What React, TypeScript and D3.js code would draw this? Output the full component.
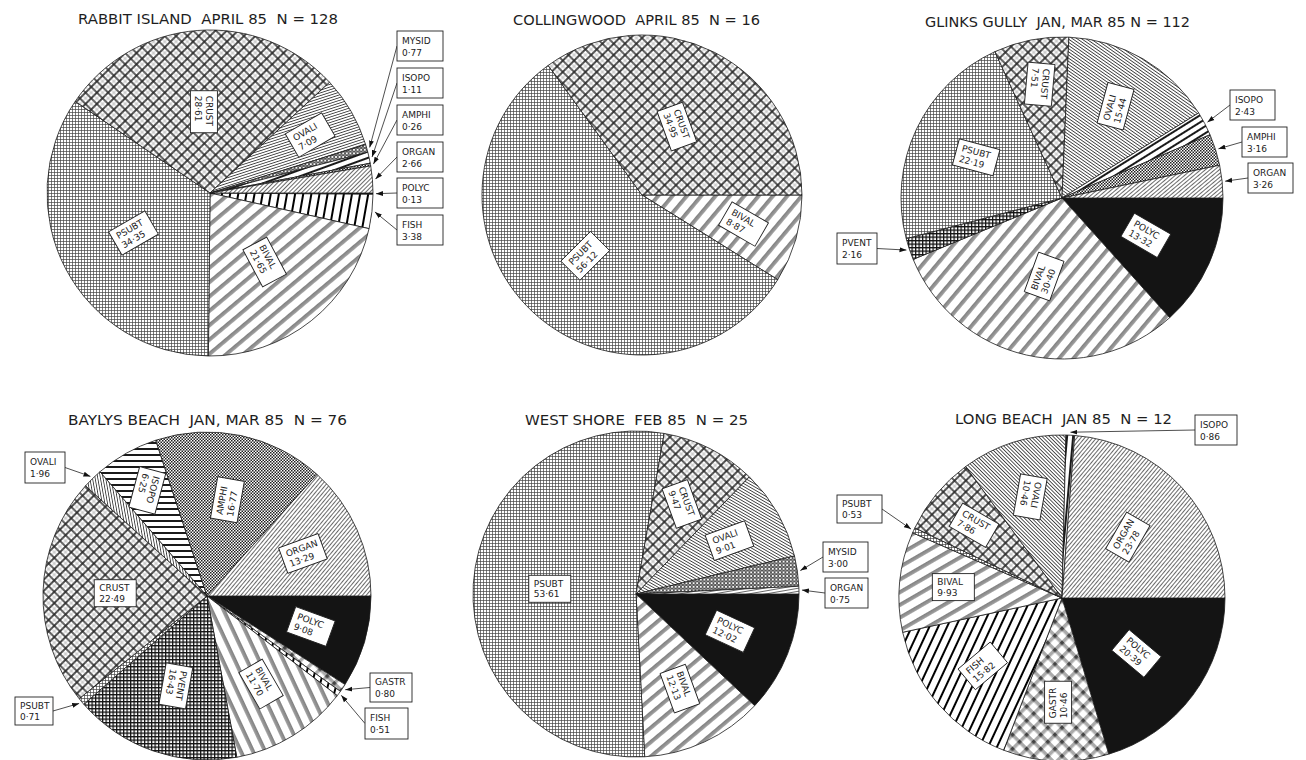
import React from 'react';
import * as d3 from 'd3';

// ---------- DATA (percent of diet, clockwise from 3 o'clock) ----------
const rabbitCats = ['POLYC', 'FISH', 'BIVAL', 'PSUBT', 'CRUST', 'OVALI', 'MYSID', 'ISOPO', 'AMPHI', 'ORGAN'];
const rabbitVals = [0.13, 3.38, 21.65, 34.35, 28.61, 7.09, 0.77, 1.11, 0.26, 2.66];
const collingCats = ['BIVAL', 'PSUBT', 'CRUST'];
const collingVals = [8.87, 56.12, 34.95];
const glinksCats = ['POLYC', 'BIVAL', 'PVENT', 'PSUBT', 'CRUST', 'OVALI', 'ISOPO', 'AMPHI', 'ORGAN'];
const glinksVals = [13.32, 30.4, 2.16, 22.19, 7.51, 15.44, 2.43, 3.16, 3.26];
const baylysCats = ['POLYC', 'GASTR', 'FISH', 'BIVAL', 'PVENT', 'PSUBT', 'CRUST', 'OVALI', 'ISOPO', 'AMPHI', 'ORGAN'];
const baylysVals = [9.08, 0.8, 0.51, 11.7, 16.43, 0.71, 22.49, 1.96, 6.25, 16.77, 13.29];
const westCats = ['POLYC', 'BIVAL', 'PSUBT', 'CRUST', 'OVALI', 'MYSID', 'ORGAN'];
const westVals = [12.02, 12.13, 53.61, 9.47, 9.01, 3.0, 0.75];
const longCats = ['POLYC', 'GASTR', 'FISH', 'BIVAL', 'PSUBT', 'CRUST', 'OVALI', 'ISOPO', 'ORGAN'];
const longVals = [20.39, 10.46, 15.82, 9.93, 0.53, 7.86, 10.46, 0.86, 23.78];
const titles = [
  'RABBIT ISLAND  APRIL 85  N = 128',
  'COLLINGWOOD  APRIL 85  N = 16',
  'GLINKS GULLY  JAN, MAR 85 N = 112',
  'BAYLYS BEACH  JAN, MAR 85  N = 76',
  'WEST SHORE  FEB 85  N = 25',
  'LONG BEACH  JAN 85  N = 12',
];

// ---------- LAYOUT / STYLE ----------
type Inner = { [k: string]: [number, number] }; // radius fraction, text rotation
type Outer = { [k: string]: [number, number, number, number, 'l' | 'r'] }; // box x,y,w,h, arrow side
const pies = [
  { cats: rabbitCats, vals: rabbitVals, cx: 210, cy: 193, r: 163, tx: 78, ty: 24, tw: 260 },
  { cats: collingCats, vals: collingVals, cx: 642, cy: 195, r: 160, tx: 513, ty: 25, tw: 247 },
  { cats: glinksCats, vals: glinksVals, cx: 1062, cy: 198, r: 161, tx: 925, ty: 27, tw: 265 },
  { cats: baylysCats, vals: baylysVals, cx: 207, cy: 596, r: 164, tx: 68, ty: 425, tw: 279 },
  { cats: westCats, vals: westVals, cx: 636, cy: 594, r: 163, tx: 525, ty: 425, tw: 223 },
  { cats: longCats, vals: longVals, cx: 1062, cy: 598, r: 163, tx: 955, ty: 424, tw: 217 },
];
const inner: Inner[] = [
  { CRUST: [0.5, 90], OVALI: [0.71, -30], PSUBT: [0.53, -30], BIVAL: [0.54, 62] },
  { CRUST: [0.48, 70], BIVAL: [0.66, 30], PSUBT: [0.52, -45] },
  { POLYC: [0.57, 30], BIVAL: [0.5, -70], PSUBT: [0.59, 15], CRUST: [0.72, 95], OVALI: [0.66, -75] },
  { POLYC: [0.66, 20], BIVAL: [0.63, 60], PVENT: [0.58, 100], CRUST: [0.56, 0], ISOPO: [0.74, 105], AMPHI: [0.6, -80], ORGAN: [0.64, -20] },
  { POLYC: [0.62, 25], BIVAL: [0.64, 70], PSUBT: [0.53, 0], CRUST: [0.62, 70], OVALI: [0.66, -20] },
  { POLYC: [0.57, 40], GASTR: [0.64, -90], FISH: [0.64, -40], BIVAL: [0.67, 0], CRUST: [0.7, 30], OVALI: [0.65, 100], ORGAN: [0.55, -60] },
];
const outer: Outer[] = [
  {
    MYSID: [397, 31, 46, 30, 'l'], ISOPO: [397, 68, 46, 30, 'l'], AMPHI: [397, 105, 46, 30, 'l'],
    ORGAN: [397, 142, 46, 30, 'l'], POLYC: [397, 178, 46, 30, 'l'], FISH: [397, 215, 46, 30, 'l'],
  },
  {},
  { ISOPO: [1230, 90, 45, 30, 'l'], AMPHI: [1242, 127, 45, 30, 'l'], ORGAN: [1248, 163, 45, 30, 'l'], PVENT: [837, 233, 40, 31, 'r'] },
  { OVALI: [25, 452, 40, 31, 'r'], PSUBT: [15, 697, 38, 28, 'r'], GASTR: [370, 673, 42, 29, 'l'], FISH: [365, 708, 43, 31, 'l'] },
  { MYSID: [823, 542, 45, 30, 'l'], ORGAN: [825, 578, 43, 30, 'l'] },
  { PSUBT: [837, 495, 45, 28, 'r'], ISOPO: [1195, 415, 42, 30, 'l'] },
];
const baseAngle: { [k: string]: number } = {
  PSUBT: 0, CRUST: 45, OVALI: 35, BIVAL: -45, FISH: -75, ISOPO: -30, ORGAN: -45, AMPHI: 0, MYSID: 0, GASTR: 45, PVENT: 0, POLYC: 0,
};
const angleOverride: { [k: string]: number }[] = [
  { OVALI: -18, BIVAL: -40, FISH: -80, ISOPO: -20 },
  { BIVAL: -50 },
  { BIVAL: -50, ISOPO: -32, ORGAN: -40 },
  { BIVAL: 65, ISOPO: 0, ORGAN: -50, OVALI: 80 },
  { BIVAL: -40, OVALI: 30, ORGAN: -10 },
  { BIVAL: -30, FISH: -65, ISOPO: -85, ORGAN: -50, OVALI: 45 },
];

const fmt = (v: number) => v.toFixed(2).replace('.', '·');

function patternBody(cat: string) {
  switch (cat) {
    case 'PSUBT':
      return { s: 3, el: <path d="M0,0.5H3M0.5,0V3" stroke="#444" strokeWidth={0.7} /> };
    case 'CRUST':
      return {
        s: 8,
        el: (
          <g>
            <path d="M0,1H8M1,0V8" stroke="#2a2a2a" strokeWidth={1.7} />
            <path d="M0,5H8M5,0V8" stroke="#8a8a8a" strokeWidth={0.5} />
          </g>
        ),
      };
    case 'OVALI':
      return { s: 2.6, el: <path d="M0,1.3H2.6" stroke="#2a2a2a" strokeWidth={0.8} /> };
    case 'BIVAL':
      return {
        s: 11,
        el: (
          <g>
            <rect x={0} y={0} width={11} height={3.6} fill="#b0b0b0" />
            <path d="M0,0.4H11M0,3.2H11M0,1.8H11" stroke="#555" strokeWidth={0.55} />
          </g>
        ),
      };
    case 'FISH':
      return { s: 8, el: <path d="M0,4H8" stroke="#000" strokeWidth={2} /> };
    case 'ISOPO':
      return { s: 6, el: <path d="M0,3H6" stroke="#000" strokeWidth={1.8} /> };
    case 'ORGAN':
      return { s: 3, el: <path d="M0,1.5H3" stroke="#2a2a2a" strokeWidth={0.7} /> };
    case 'AMPHI':
      return {
        s: 3,
        el: (
          <g fill="#1e1e1e">
            <rect x={0} y={0} width={1.5} height={1.5} />
            <rect x={1.5} y={1.5} width={1.5} height={1.5} />
          </g>
        ),
      };
    case 'MYSID':
      return { s: 3.6, el: <circle cx={1.8} cy={1.8} r={1.25} fill="none" stroke="#111" strokeWidth={0.9} /> };
    case 'GASTR':
      return {
        s: 10,
        el: (
          <g>
            <rect x={0} y={0} width={10} height={3.5} fill="#aaa" />
            <rect x={0} y={0} width={3.5} height={10} fill="#aaa" />
            <rect x={0} y={0} width={3.5} height={3.5} fill="#444" />
          </g>
        ),
      };
    case 'PVENT':
      return { s: 3.5, el: <path d="M0,0.6H3.5M0.6,0V3.5" stroke="#111" strokeWidth={1.3} /> };
    default:
      return null;
  }
}

function LabelBox({ x, y, w, h, rot, cat, val }: any) {
  return (
    <g transform={`translate(${x},${y}) rotate(${rot})`}>
      <rect x={-w / 2} y={-h / 2} width={w} height={h} fill="#fff" stroke="#222" strokeWidth={0.9} />
      <text x={-w / 2 + 5} y={-h / 2 + h * 0.42} fontSize={9} fontFamily="DejaVu Sans, sans-serif" fill="#222">
        {cat}
      </text>
      <text x={-w / 2 + 5} y={-h / 2 + h * 0.82} fontSize={9} fontFamily="DejaVu Sans, sans-serif" fill="#222">
        {fmt(val)}
      </text>
    </g>
  );
}

export default function App() {
  const pieGen = d3
    .pie<number>()
    .sort(null)
    .value((d) => d)
    .startAngle(Math.PI / 2)
    .endAngle(Math.PI / 2 + Math.PI * 2);

  const defs: React.ReactNode[] = [];
  const body: React.ReactNode[] = [];

  pies.forEach((p, pi) => {
    const arcs = pieGen(p.vals);
    const arcGen = d3.arc<d3.PieArcDatum<number>>().innerRadius(0).outerRadius(p.r);
    const polar = (a: number, rr: number): [number, number] => [p.cx + rr * Math.sin(a), p.cy - rr * Math.cos(a)];

    p.cats.forEach((cat) => {
      const pb = patternBody(cat);
      if (!pb) return;
      const ang = angleOverride[pi][cat] ?? baseAngle[cat];
      defs.push(
        <pattern
          key={`pat${pi}${cat}`}
          id={`pat${pi}-${cat}`}
          patternUnits="userSpaceOnUse"
          width={pb.s}
          height={pb.s}
          patternTransform={`rotate(${ang})`}
        >
          <rect x={0} y={0} width={pb.s} height={pb.s} fill="#fff" />
          {pb.el}
        </pattern>
      );
    });

    const g: React.ReactNode[] = [];
    arcs.forEach((a, i) => {
      const cat = p.cats[i];
      const fill = cat === 'POLYC' ? '#141414' : `url(#pat${pi}-${cat})`;
      g.push(
        <path
          key={`s${i}`}
          d={arcGen(a) || ''}
          transform={`translate(${p.cx},${p.cy})`}
          fill={fill}
          stroke="#1a1a1a"
          strokeWidth={0.8}
        />
      );
    });
    arcs.forEach((a, i) => {
      const cat = p.cats[i];
      const mid = (a.startAngle + a.endAngle) / 2;
      const inn = inner[pi][cat];
      const out = outer[pi][cat];
      if (inn) {
        const [x, y] = polar(mid, inn[0] * p.r);
        g.push(<LabelBox key={`l${i}`} x={x} y={y} w={42} h={27} rot={inn[1]} cat={cat} val={p.vals[i]} />);
      } else if (out) {
        const [bx, by, bw, bh, side] = out;
        const sx = side === 'l' ? bx : bx + bw;
        const sy = by + bh / 2;
        const [ex, ey] = polar(mid, p.r + 3);
        g.push(
          <line
            key={`a${i}`}
            x1={sx}
            y1={sy}
            x2={ex}
            y2={ey}
            stroke="#222"
            strokeWidth={0.8}
            markerEnd="url(#arrowHead)"
          />
        );
        g.push(
          <LabelBox key={`o${i}`} x={bx + bw / 2} y={by + bh / 2} w={bw} h={bh} rot={0} cat={cat} val={p.vals[i]} />
        );
      }
    });
    g.push(
      <text
        key="title"
        x={p.tx}
        y={p.ty}
        textLength={p.tw}
        lengthAdjust="spacingAndGlyphs"
        fontSize={14}
        fontFamily="DejaVu Sans, sans-serif"
        fill="#1e1e1e"
        style={{ whiteSpace: 'pre' }}
      >
        {titles[pi]}
      </text>
    );
    body.push(<g key={`pie${pi}`}>{g}</g>);
  });

  return (
    <svg width={1306} height={760} style={{ position: 'absolute', left: 0, top: 0, background: '#fff' }}>
      <defs>
        <marker
          id="arrowHead"
          viewBox="0 0 10 10"
          refX={10}
          refY={5}
          markerWidth={7}
          markerHeight={7}
          markerUnits="userSpaceOnUse"
          orient="auto"
        >
          <path d="M0,1.5L10,5L0,8.5z" fill="#111" />
        </marker>
        {defs}
      </defs>
      <rect x={0} y={0} width={1306} height={760} fill="#fff" />
      {body}
    </svg>
  );
}
